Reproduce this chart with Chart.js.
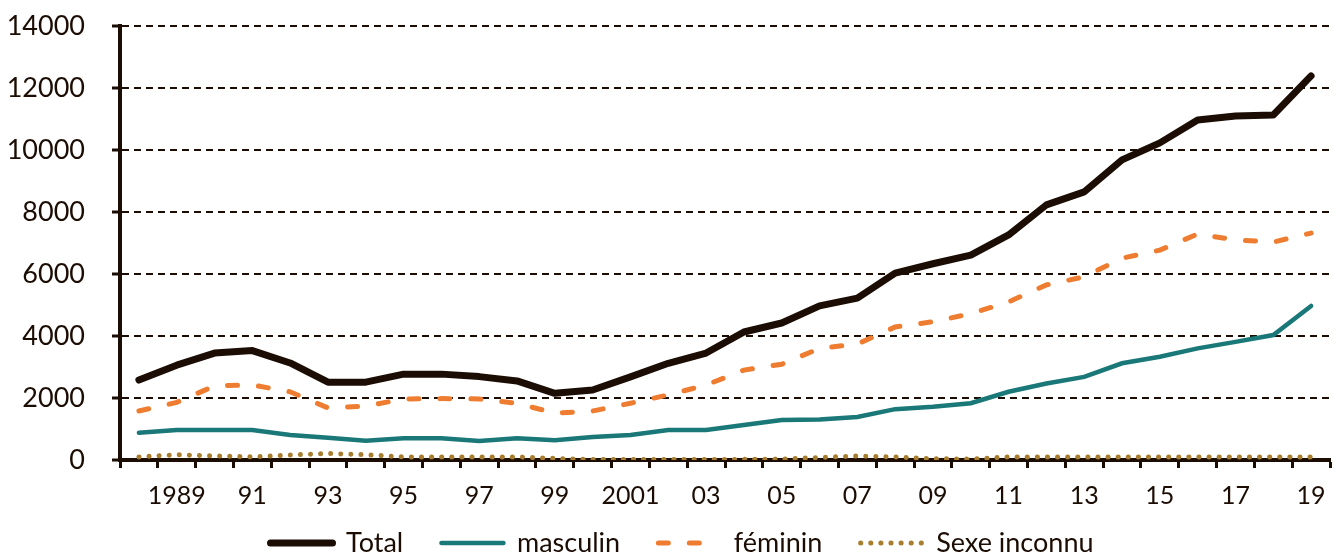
<!DOCTYPE html>
<html>
<head>
<meta charset="utf-8">
<script src="https://cdn.jsdelivr.net/npm/chart.js@4/dist/chart.umd.min.js"></script>
<style>
html,body{margin:0;padding:0;background:#fff;}
#wrap{width:1343px;height:553px;position:relative;}
</style>
</head>
<body>
<div id="wrap"><canvas id="c" width="1343" height="553"></canvas></div>
<script>
const years = ['1988','1989','1990','1991','1992','1993','1994','1995','1996','1997','1998','1999','2000','2001','2002','2003','2004','2005','2006','2007','2008','2009','2010','2011','2012','2013','2014','2015','2016','2017','2018','2019'];
const tickLabels = ['','1989','','91','','93','','95','','97','','99','','2001','','03','','05','','07','','09','','11','','13','','15','','17','','19'];
const total = [2580,3060,3450,3530,3130,2510,2510,2770,2770,2690,2550,2150,2260,2680,3120,3450,4130,4420,4970,5220,6030,6330,6610,7260,8230,8650,9680,10230,10970,11100,11130,12390];
const masculin = [880,970,970,970,810,720,620,700,700,610,700,640,740,810,970,970,1130,1290,1310,1390,1640,1720,1830,2200,2470,2680,3120,3330,3600,3810,4030,4970];
const feminin = [1580,1860,2390,2420,2200,1680,1740,1970,1980,1970,1830,1510,1580,1830,2100,2420,2900,3090,3600,3740,4290,4460,4720,5100,5650,5910,6510,6770,7290,7100,7030,7320];
const inconnu = [100,170,130,100,160,210,170,100,100,100,100,50,20,20,20,20,20,30,80,130,100,40,30,100,100,100,100,100,100,100,100,100];
const yTicks = [0,2000,4000,6000,8000,10000,12000,14000];
const legendNames = ['Total', 'masculin', 'féminin', 'Sexe inconnu'];

const dark = '#1c0d04';
const FONT = 'Lato';

const legendShift = {
  id: 'legendShift',
  afterLayout(chart) {
    const lg = chart.legend;
    if (lg) { lg.left += 17; lg.right += 17; }
  }
};

new Chart(document.getElementById('c'), {
  type: 'line',
  data: {
    labels: years,
    datasets: [
      {label: legendNames[0], data: total, borderColor: dark, backgroundColor: dark, borderWidth: 7, pointRadius: 0, borderCapStyle:'round', borderJoinStyle:'round', tension:0},
      {label: legendNames[1], data: masculin, borderColor: '#1b7878', backgroundColor: '#1b7878', borderWidth: 4.5, pointRadius: 0, borderCapStyle:'round', tension:0},
      {label: legendNames[2], data: feminin, borderColor: '#ee7d31', backgroundColor: '#ee7d31', borderWidth: 5, borderDash:[10,21], borderCapStyle:'round', pointRadius: 0, tension:0},
      {label: legendNames[3], data: inconnu, borderColor: '#a97d2e', backgroundColor: '#a97d2e', borderWidth: 5, borderDash:[0.1,10], borderCapStyle:'round', pointRadius: 0, tension:0}
    ]
  },
  plugins: [legendShift],
  options: {
    responsive: false,
    animation: false,
    layout: {padding: {left: 0, right: 13, top: 26, bottom: -13.5}},
    plugins: {
      tooltip: {enabled:false},
      legend: {
        position: 'bottom',
        labels: {
          usePointStyle: true,
          pointStyle: 'line',
          pointStyleWidth: 62,
          padding: 17.5,
          color: dark,
          font: {family: FONT, size: 27},
          generateLabels(chart) {
            return chart.data.datasets.map((ds, i) => ({
              text: i < 3 ? ds.label + '   ' : ds.label,
              fillStyle: ds.borderColor,
              strokeStyle: ds.borderColor,
              lineWidth: ds.borderWidth,
              lineDash: ds.borderDash || [],
              lineCap: 'round',
              pointStyle: 'line',
              fontColor: dark,
              hidden: false,
              datasetIndex: i
            }));
          }
        }
      }
    },
    scales: {
      x: {
        type: 'category',
        offset: true,
        grid: {display: true, drawOnChartArea: false, drawTicks: true, tickLength: 8, tickWidth: 3, tickColor: dark, offset: true},
        border: {display: true, color: dark, width: 4},
        ticks: {
          autoSkip: false, maxRotation: 0, padding: 13, color: dark,
          font: {family: FONT, size: 25},
          callback: (v, i) => tickLabels[i]
        },
        afterFit(s) { s.height = 52; s.paddingLeft = 0; s.paddingRight = 0; }
      },
      y: {
        min: 0, max: 14000,
        afterBuildTicks(s) { s.ticks = yTicks.map(v => ({value: v})); },
        grid: {color: dark, lineWidth: 2, drawTicks: true, tickLength: 8, tickWidth: 3, tickColor: dark, tickBorderDash: []},
        border: {display: true, color: dark, width: 4, dash: [7,5]},
        ticks: {padding: 27, color: dark, font: {family: FONT, size: 27}, callback: v => String(v)},
        afterFit(s) { s.width = 120; s.paddingTop = 0; s.paddingBottom = 0; }
      }
    }
  }
});
</script>
</body>
</html>
